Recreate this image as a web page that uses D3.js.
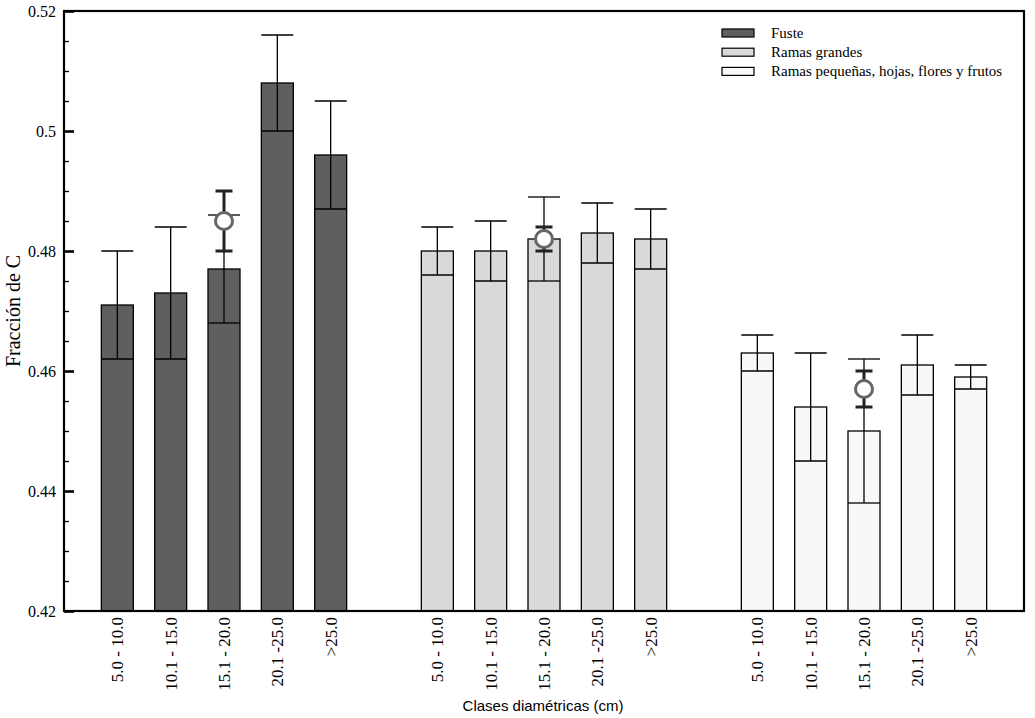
<!DOCTYPE html>
<html>
<head>
<meta charset="utf-8">
<script src="https://cdn.jsdelivr.net/npm/d3@7"></script>
<style>
  body { margin: 0; background: #fff; }
</style>
</head>
<body>
<script>
// data
const groups = ["Fuste", "Ramas grandes", "Ramas pequeñas, hojas, flores y frutos"];
const classes = ["5.0 - 10.0", "10.1 - 15.0", "15.1 - 20.0", "20.1 -25.0", ">25.0"];
const fuste = [0.471, 0.473, 0.477, 0.508, 0.496];
const fusteErr = [0.009, 0.011, 0.009, 0.008, 0.009];
const ramasGrandes = [0.480, 0.480, 0.482, 0.483, 0.482];
const ramasGrandesErr = [0.004, 0.005, 0.007, 0.005, 0.005];
const ramasPeq = [0.463, 0.454, 0.450, 0.461, 0.459];
const ramasPeqErr = [0.003, 0.009, 0.012, 0.005, 0.002];
// overall mean per component (circle) with its error
const means = [0.485, 0.482, 0.457];
const meansErr = [0.005, 0.002, 0.003];
const meanAt = 2; // circle drawn over third class
const yTicks = [0.42, 0.44, 0.46, 0.48, 0.50, 0.52];

const colors = ["#5f5f5f", "#d9d9d9", "#f8f8f8"];

const margin = {top: 11, right: 11, bottom: 107, left: 64},
  width = 1035 - margin.left - margin.right,
  height = 718 - margin.top - margin.bottom;

const svg = d3.select("body").append("svg")
  .attr("width", width + margin.left + margin.right)
  .attr("height", height + margin.top + margin.bottom);
const g = svg.append("g").attr("transform", `translate(${margin.left},${margin.top})`);

const values = [fuste, ramasGrandes, ramasPeq];
const errs = [fusteErr, ramasGrandesErr, ramasPeqErr];

// slot keys, with an empty slot between groups
const keys = [];
const bars = [];
groups.forEach((grp, gi) => {
  if (gi > 0) keys.push("gap" + gi);
  classes.forEach((c, ci) => {
    const k = gi + "|" + c;
    keys.push(k);
    bars.push({key: k, g: gi, label: c, v: values[gi][ci], e: errs[gi][ci]});
  });
});

const x = d3.scaleBand()
  .domain(keys)
  .range([0, width])
  .paddingInner(0.4)
  .paddingOuter(0.7);

const y = d3.scaleLinear()
  .domain([0.42, 0.52])
  .range([height, 0]);

const serif = "'Liberation Serif', 'Times New Roman', serif";

// bars
g.selectAll("rect.bar")
  .data(bars)
  .join("rect")
  .attr("class", "bar")
  .attr("x", d => x(d.key))
  .attr("y", d => y(d.v))
  .attr("width", x.bandwidth())
  .attr("height", d => y(0.42) - y(d.v))
  .attr("fill", d => colors[d.g])
  .attr("stroke", "#000")
  .attr("stroke-width", 1.3);

// error bars: line from lower to upper, caps as wide as the bar
const eb = g.selectAll("g.err").data(bars).join("g").attr("class", "err");
eb.append("line")
  .attr("x1", d => x(d.key) + x.bandwidth() / 2)
  .attr("x2", d => x(d.key) + x.bandwidth() / 2)
  .attr("y1", d => y(d.v - d.e))
  .attr("y2", d => y(d.v + d.e));
eb.append("line")
  .attr("x1", d => x(d.key))
  .attr("x2", d => x(d.key) + x.bandwidth())
  .attr("y1", d => y(d.v - d.e))
  .attr("y2", d => y(d.v - d.e));
eb.append("line")
  .attr("x1", d => x(d.key))
  .attr("x2", d => x(d.key) + x.bandwidth())
  .attr("y1", d => y(d.v + d.e))
  .attr("y2", d => y(d.v + d.e));
eb.selectAll("line").attr("stroke", "#000").attr("stroke-width", 1.3);

// group means: circle with thick error bar
const md = means.map((m, gi) => ({key: gi + "|" + classes[meanAt], m: m, e: meansErr[gi]}));
const mg = g.selectAll("g.mean").data(md).join("g").attr("class", "mean")
  .attr("transform", d => `translate(${x(d.key) + x.bandwidth() / 2},0)`);
mg.append("line")
  .attr("y1", d => y(d.m - d.e)).attr("y2", d => y(d.m + d.e));
mg.append("line")
  .attr("x1", -8.5).attr("x2", 8.5)
  .attr("y1", d => y(d.m - d.e)).attr("y2", d => y(d.m - d.e));
mg.append("line")
  .attr("x1", -8.5).attr("x2", 8.5)
  .attr("y1", d => y(d.m + d.e)).attr("y2", d => y(d.m + d.e));
mg.selectAll("line").attr("stroke", "#222").attr("stroke-width", 3);
mg.append("circle")
  .attr("cy", d => y(d.m))
  .attr("r", 8.5)
  .attr("fill", "#fff")
  .attr("stroke", "#666")
  .attr("stroke-width", 3);

// y axis: major ticks inward, minor every 0.005
const minor = d3.range(0.42, 0.5201, 0.005).filter(v => Math.abs(Math.round(v * 50) - v * 50) > 1e-6);
g.append("g")
  .call(d3.axisRight(y).tickValues(minor).tickSize(5).tickFormat(""))
  .call(a => a.select(".domain").remove())
  .selectAll("line").attr("stroke-width", 1.3);
const yAx = g.append("g")
  .call(d3.axisRight(y).tickValues(yTicks).tickSize(10).tickFormat(d3.format("~g")));
yAx.select(".domain").remove();
yAx.selectAll("line").attr("stroke-width", 2.6);
yAx.selectAll("text")
  .attr("x", -8).attr("text-anchor", "end")
  .style("font-family", serif).style("font-size", "16px").attr("fill", "#000");

// x labels (no tick marks)
const xAx = g.append("g")
  .attr("transform", `translate(0,${height})`)
  .call(d3.axisBottom(x).tickValues(bars.map(d => d.key)).tickSize(0)
    .tickFormat(k => k.split("|")[1]));
xAx.select(".domain").remove();
xAx.selectAll("text")
  .attr("transform", "rotate(-90)")
  .attr("x", -6).attr("y", 0).attr("dy", "0.35em")
  .attr("text-anchor", "end")
  .style("font-family", serif).style("font-size", "17px").attr("fill", "#000");

// frame
g.append("rect")
  .attr("width", width).attr("height", height)
  .attr("fill", "none").attr("stroke", "#000").attr("stroke-width", 2.2);

// titles
svg.append("text")
  .attr("transform", `translate(20,${margin.top + height / 2}) rotate(-90)`)
  .attr("text-anchor", "middle")
  .style("font-family", serif).style("font-size", "20px")
  .text("Fracción de C");
svg.append("text")
  .attr("x", 543).attr("y", 711)
  .attr("text-anchor", "middle")
  .style("font-family", "'Liberation Sans', Arial, sans-serif").style("font-size", "15px")
  .text("Clases diamétricas (cm)");

// legend
const leg = svg.append("g").attr("transform", "translate(722,29)");
const li = leg.selectAll("g").data(groups).join("g")
  .attr("transform", (d, i) => `translate(0,${i * 19.2})`);
li.append("rect")
  .attr("width", 32).attr("height", 8)
  .attr("fill", (d, i) => colors[i])
  .attr("stroke", "#000").attr("stroke-width", 1.2);
li.append("text")
  .attr("x", 49).attr("y", 8.5)
  .style("font-family", serif).style("font-size", "15px")
  .text(d => d);
</script>
</body>
</html>
